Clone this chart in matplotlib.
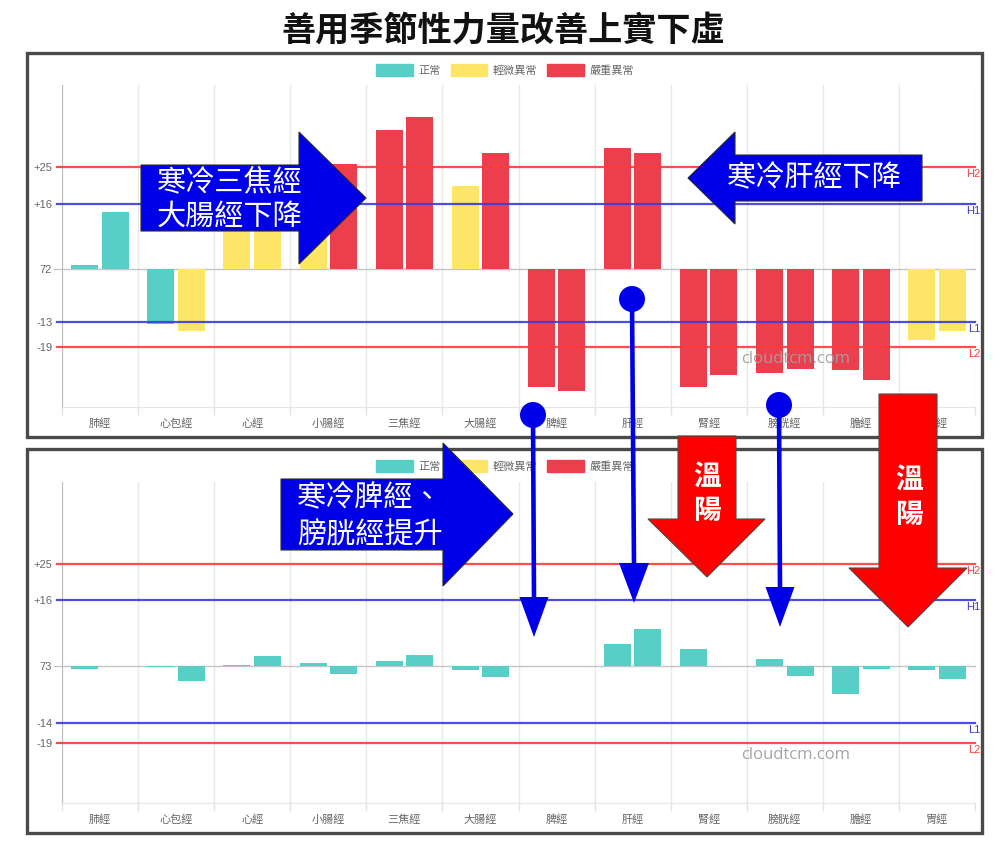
import matplotlib
matplotlib.use("Agg")
import matplotlib.pyplot as plt
from matplotlib.patches import Polygon, Rectangle, Ellipse, Patch
from matplotlib.lines import Line2D
import matplotlib.transforms as mtransforms
import numpy as np

plt.rcParams['font.family'] = ['Noto Sans CJK TC', 'DejaVu Sans']

# ---------------- data ----------------
meridians = ["肺經", "心包經", "心經", "小腸經", "三焦經", "大腸經",
             "脾經", "肝經", "腎經", "膀胱經", "膽經", "胃經"]

before_left = [0.9, -13.3, 19.0, 19.5, 34.0, 20.3, -28.9, 29.7, -28.9, -25.5, -24.7, -17.4]
before_right = [13.9, -15.1, 20.0, 25.7, 37.2, 28.3, -29.9, 28.5, -25.9, -24.4, -27.2, -15.1]
before_left_status = ["正常", "正常", "輕微異常", "輕微異常", "嚴重異常", "輕微異常",
                      "嚴重異常", "嚴重異常", "嚴重異常", "嚴重異常", "嚴重異常", "輕微異常"]
before_right_status = ["正常", "輕微異常", "輕微異常", "嚴重異常", "嚴重異常", "嚴重異常",
                       "嚴重異常", "嚴重異常", "嚴重異常", "嚴重異常", "嚴重異常", "輕微異常"]

after_left = [-0.9, -0.25, 0.2, 0.65, 1.1, -1.2, 0.0, 5.2, 4.0, 1.5, -6.9, -1.1]
after_right = [0.0, -3.8, 2.3, -2.0, 2.6, -2.8, 0.0, 8.9, 0.0, -2.6, -0.8, -3.4]
after_left_status = ["正常"] * 12
after_right_status = ["正常"] * 12

legend_labels = ["正常", "輕微異常", "嚴重異常"]
status_colors = {"正常": "#58cfc6", "輕微異常": "#fde567", "嚴重異常": "#ec3f4d"}

top_ticks = [25, 16, 0, -13, -19]
top_ticklabels = ["+25", "+16", "72", "-13", "-19"]
bottom_ticks = [25, 16, 0, -14, -19]
bottom_ticklabels = ["+25", "+16", "73", "-14", "-19"]
limit_names = ["H2", "H1", None, "L1", "L2"]

title = "善用季節性力量改善上實下虛"

# ---------------- figure ----------------
W, H = 1000, 846
fig = plt.figure(figsize=(W / 100, H / 100), dpi=100)
fig.patch.set_facecolor("white")


def fx(px):
    return px / W


def fy(py):
    return 1 - py / H


def P(pts):
    return [(fx(x), fy(y)) for x, y in pts]


RED_LINE = "#ff3b3b"
BLUE_LINE = "#3a3ae0"
limit_colors = [RED_LINE, BLUE_LINE, "#c4c4c4", BLUE_LINE, RED_LINE]


def draw_panel(ax, left, right, lstat, rstat, ticks, ticklabels):
    x = np.arange(len(meridians))
    bw = 0.355
    ax.bar(x - 0.2, left, width=bw, color=[status_colors[s] for s in lstat], zorder=3)
    ax.bar(x + 0.2, right, width=bw, color=[status_colors[s] for s in rstat], zorder=3)
    ax.set_xlim(-0.5, len(meridians) - 0.5)
    ax.set_ylim(-33.7, 45)

    for sp in ["top", "right"]:
        ax.spines[sp].set_visible(False)
    ax.spines["left"].set_color("#bdbdbd")
    ax.spines["bottom"].set_color("#e6e6e6")

    ax.set_xticks(x)
    ax.set_xticklabels(meridians, fontsize=8, color="#666666")
    ax.set_xticks(np.arange(-0.5, len(meridians)), minor=True)
    ax.tick_params(axis="x", which="major", length=0, pad=8.2)
    ax.tick_params(axis="x", which="minor", length=6, color="#e3e3e3", width=1)
    ax.grid(which="minor", axis="x", color="#e8e8e8", lw=1, zorder=0)

    ax.set_yticks(ticks)
    ax.set_yticklabels(ticklabels, fontsize=8, color="#666666", family="Liberation Sans")
    ax.tick_params(axis="y", length=0, pad=7)

    for val, col, nm in zip(ticks, limit_colors, limit_names):
        lw = 1.0 if nm is None else 1.6
        ax.axhline(val, xmin=-0.009 if nm is None else -0.005, xmax=1.0,
                   color=col, lw=lw, zorder=4 if nm else 2, clip_on=False,
                   alpha=0.9 if nm else 1)
        if nm:
            ax.annotate(nm, xy=(1.0, val),
                        xycoords=mtransforms.blended_transform_factory(ax.transAxes, ax.transData),
                        xytext=(4, -5), textcoords="offset points",
                        ha="right", va="center", fontsize=8, color=col,
                        family="Liberation Sans", annotation_clip=False)


ax1 = fig.add_axes([fx(62), fy(407), fx(975) - fx(62), fy(85) - fy(407)])
draw_panel(ax1, before_left, before_right, before_left_status, before_right_status,
           top_ticks, top_ticklabels)
ax2 = fig.add_axes([fx(62), fy(803), fx(975) - fx(62), fy(482) - fy(803)])
draw_panel(ax2, after_left, after_right, after_left_status, after_right_status,
           bottom_ticks, bottom_ticklabels)

# watermarks
for ax in (ax1, ax2):
    ax.text(0.803, 0.149, "cloudtcm.com", transform=ax.transAxes,
            fontsize=12, color="#a0a0a0", family="Open Sans", ha="center", va="center",
            zorder=5, alpha=0.95)

# legends
handles = [Patch(facecolor=status_colors[s], edgecolor=status_colors[s]) for s in legend_labels]
for ly in (70, 466):
    fig.legend(handles, legend_labels, loc="center", bbox_to_anchor=(fx(505), fy(ly)),
               ncol=3, frameon=False, fontsize=8, handlelength=3.3, handleheight=1.2,
               handletextpad=0.5, columnspacing=0.9, labelcolor="#666666",
               borderpad=0, borderaxespad=0)

# frames
for (x0, y0, x1, y1) in [(27, 53, 982, 437), (27, 449, 982, 833)]:
    fig.patches.append(Rectangle((fx(x0), fy(y1)), fx(x1) - fx(x0), fy(y0) - fy(y1),
                                 transform=fig.transFigure, fill=False,
                                 edgecolor="#4a4a4a", lw=2.4, zorder=2))

# title
fig.text(fx(503), fy(30), title, ha="center", va="center", fontsize=24.6,
         fontweight="bold", color="#111111")

# ---------------- annotations ----------------
BLUE = "#0000e8"
RED = "#ff0000"

blue_arrows = [
    [(141, 165), (299, 165), (299, 132), (366, 198), (299, 264), (299, 231), (141, 231)],
    [(922, 155), (735, 155), (735, 132), (688, 178), (735, 224), (735, 201), (922, 201)],
    [(281, 479), (443, 479), (443, 443), (513, 514), (443, 586), (443, 550), (281, 550)],
]
for pts in blue_arrows:
    fig.patches.append(Polygon(P(pts), closed=True, transform=fig.transFigure,
                               facecolor=BLUE, edgecolor="#2a2a2a", lw=0.8, zorder=10))

blue_texts = [
    (157, 182, "寒冷三焦經"), (157, 217, "大腸經下降"),
    (727, 178, "寒冷肝經下降"),
    (297, 498, "寒冷脾經、"), (297, 535, "膀胱經提升"),
]
for x, y, t in blue_texts:
    fig.text(fx(x), fy(y), t, ha="left", va="center", fontsize=21, color="white", zorder=11)

red_arrows = [
    [(678, 436), (736, 436), (736, 519), (765, 519), (707, 577), (648, 519), (678, 519)],
    [(879, 394), (937, 394), (937, 568), (967, 568), (908, 627), (849, 568), (879, 568)],
]
for pts in red_arrows:
    fig.patches.append(Polygon(P(pts), closed=True, transform=fig.transFigure,
                               facecolor=RED, edgecolor="#4a4a4a", lw=0.8, zorder=10))
red_texts = [(707, 477, "溫"), (707, 511, "陽"), (909, 480, "溫"), (909, 515, "陽")]
for x, y, t in red_texts:
    fig.text(fx(x), fy(y), t, ha="center", va="center", fontsize=20, fontweight="bold",
             color="white", zorder=11)

# lollipop arrows: (circle x, circle y, head base y, head half width, tip x, tip y)
lollipops = [(533, 415, 597, 14.5, 534, 637),
             (632, 299, 563, 15, 634, 603),
             (779, 405, 587, 14.5, 780, 627)]
for cx, cy, by, hw, tx, ty in lollipops:
    fig.lines.append(Line2D([fx(cx), fx(tx)], [fy(cy), fy(by + 2)], transform=fig.transFigure,
                            color=BLUE, lw=3.3, zorder=12, solid_capstyle="butt"))
    fig.patches.append(Ellipse((fx(cx), fy(cy)), 26 / W, 26 / H, transform=fig.transFigure,
                               facecolor=BLUE, edgecolor="none", zorder=12))
    fig.patches.append(Polygon(P([(tx - hw, by), (tx + hw, by), (tx, ty)]), closed=True,
                               transform=fig.transFigure, facecolor=BLUE,
                               edgecolor="none", zorder=12))

fig.savefig("out.png", dpi=100)
